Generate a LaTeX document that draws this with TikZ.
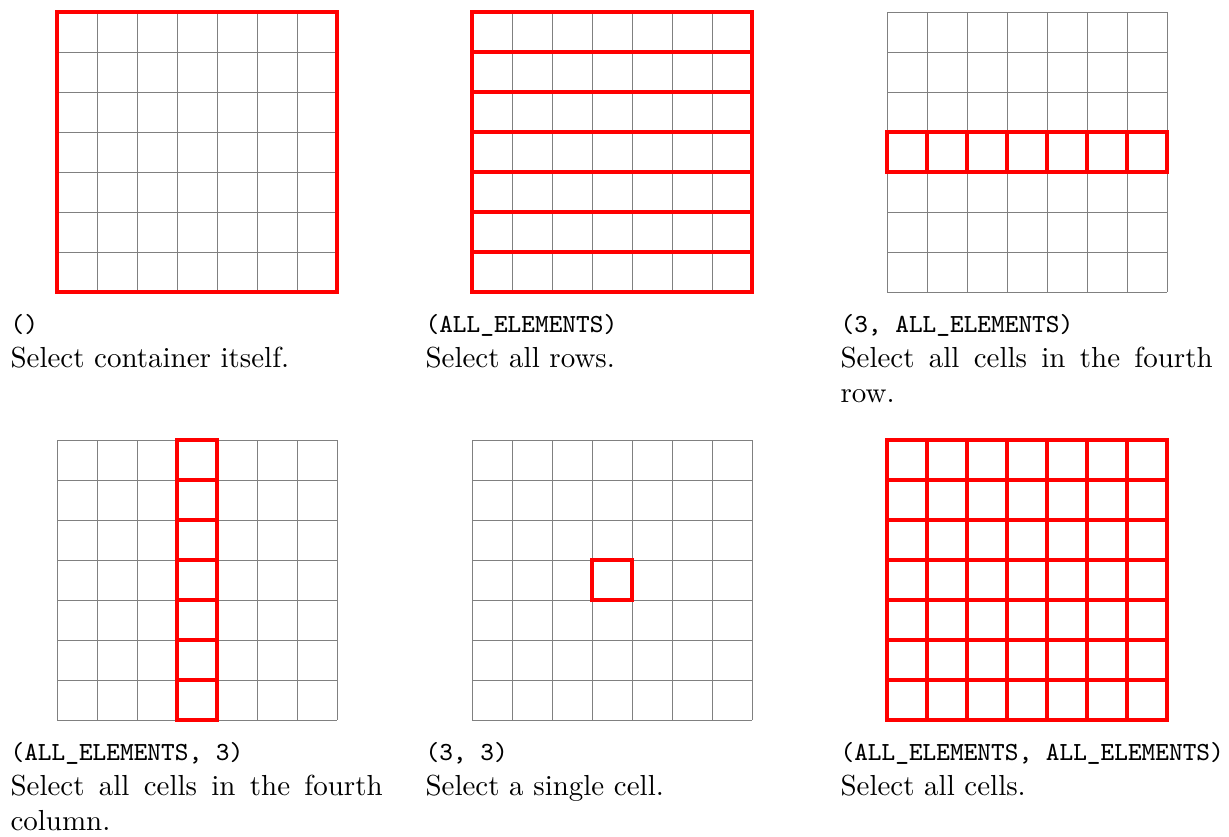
\documentclass[tikz,border=0pt]{standalone}
\usetikzlibrary{positioning}
\hyphenpenalty=10000
\newcommand\selcode[1]{{\fontsize{9.27pt}{11pt}\selectfont\ttfamily #1}}
\begin{document}
\begin{tikzpicture}[x=0.0125cm,y=-0.0125cm,
  cellgrid/.style={black!50,line width=0.3pt},
  sel/.style={red,line width=1.2pt},
  caption/.style={anchor=north west,inner sep=0pt,text width=4.65cm,align=justify,
    font=\fontsize{10.3pt}{12.4pt}\selectfont}]
  \useasboundingbox (0,0) rectangle (1229,836);
  \foreach \gx/\gy in {57/12,472/12,887/12,57/440,472/440,887/440}{
    \foreach \k in {0,...,7}{
      \draw[cellgrid] (\gx+40*\k,\gy) -- (\gx+40*\k,\gy+280);
      \draw[cellgrid] (\gx,\gy+40*\k) -- (\gx+280,\gy+40*\k);
    }
  }
  \draw[sel] (57,12) rectangle ++(280,280);
  \foreach \k in {0,...,6}
    \draw[sel] (472,12+40*\k) rectangle ++(280,40);
  \foreach \k in {0,...,6}
    \draw[sel] (887+40*\k,132) rectangle ++(40,40);
  \foreach \k in {0,...,6}
    \draw[sel] (177,440+40*\k) rectangle ++(40,40);
  \draw[sel] (592,560) rectangle ++(40,40);
  \foreach \i in {0,...,6}
    \foreach \j in {0,...,6}
      \draw[sel] (887+40*\i,440+40*\j) rectangle ++(40,40);
  \node[caption] (capself) at (10,314) {\selcode{()}\\Select container itself.};
  \node[caption] (caprows) at (425,314) {\selcode{(ALL\_ELEMENTS)}\\Select all rows.};
  \node[caption] (caprow) at (840,314) {\selcode{(3, ALL\_ELEMENTS)}\\Select all cells in the fourth row.};
  \node[caption] (capcol) at (10,742) {\selcode{(ALL\_ELEMENTS, 3)}\\Select all cells in the fourth column.};
  \node[caption] (capcell) at (425,742) {\selcode{(3, 3)}\\Select a single cell.};
  \node[caption] (capall) at (840,742) {\mbox{\selcode{(ALL\_ELEMENTS, ALL\_ELEMENTS)}}\\Select all cells.};
\end{tikzpicture}
\end{document}
